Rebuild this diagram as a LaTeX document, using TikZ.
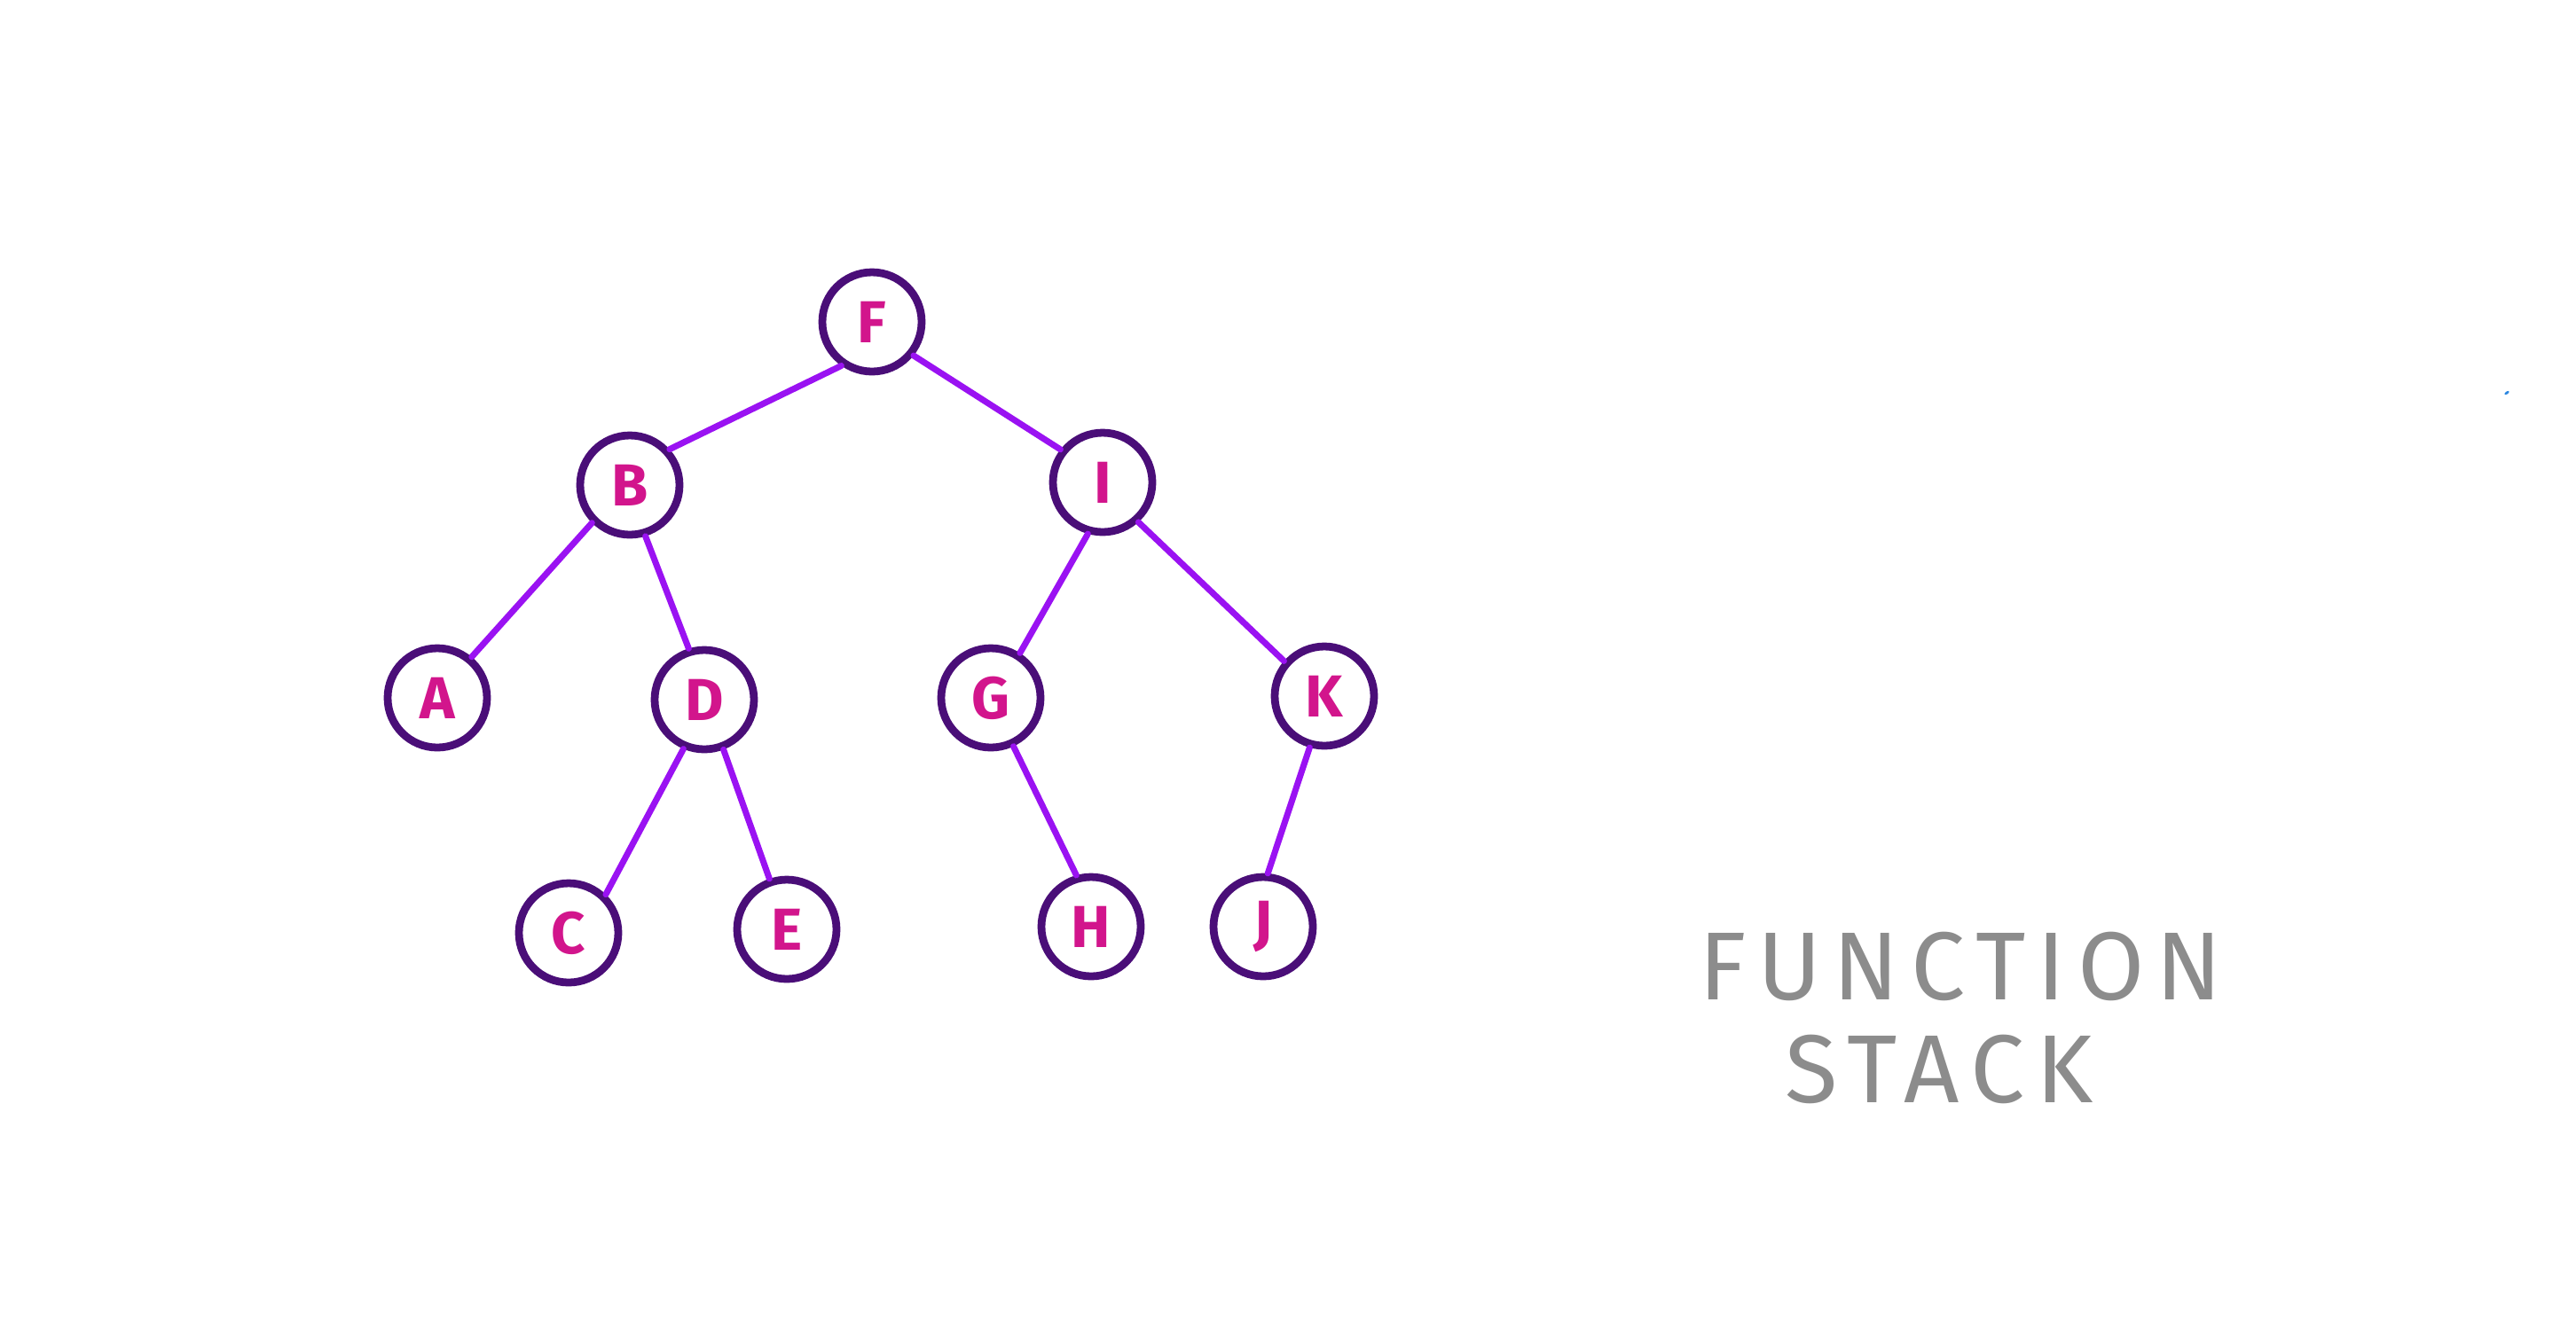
\documentclass[tikz,border=0pt]{standalone}
\usepackage{fontspec}
\setmainfont{Fira Sans}
\usepackage{tikz}

\definecolor{ringpurple}{HTML}{4A0E78}
\definecolor{edgepurple}{HTML}{9A12F2}
\definecolor{letterpink}{HTML}{D2158C}
\definecolor{notegray}{HTML}{8C8C8C}
\definecolor{dotblue}{HTML}{2A86E0}

\begin{document}
\begin{tikzpicture}[
      treenode/.style={circle, draw=ringpurple, line width=2.5pt, fill=white, minimum size=1.12cm, inner sep=0pt, text=letterpink, font=\fontsize{19}{19}\selectfont\bfseries},
      link/.style={-, draw=edgepurple, line width=2pt, line cap=round},
      note/.style={text=notegray, font=\fontsize{31}{31}\selectfont\addfontfeatures{LetterSpace=12}}
    ]
      \useasboundingbox (0,0) rectangle (29.04,-15);

      \node[treenode] (f) at (9.83,-3.63)  {F};
      \node[treenode] (b) at (7.10,-5.47)  {B};
      \node[treenode] (i) at (12.43,-5.44) {I};
      \node[treenode] (a) at (4.93,-7.87)  {A};
      \node[treenode] (d) at (7.94,-7.89)  {D};
      \node[treenode] (g) at (11.17,-7.87) {G};
      \node[treenode] (k) at (14.93,-7.85) {K};
      \node[treenode] (c) at (6.41,-10.52) {C};
      \node[treenode] (e) at (8.87,-10.48) {E};
      \node[treenode] (h) at (12.30,-10.45) {H};
      \node[treenode] (j) at (14.24,-10.45) {J};

      \draw[link] (f.235) -- (b.42);
      \draw[link] (f.321) -- (i.142);
      \draw[link] (b.225) -- (a.50);
      \draw[link] (b.287) -- (d.107);
      \draw[link] (d.247) -- (c.46);
      \draw[link] (d.291) -- (e.109);
      \draw[link] (i.254) -- (g.57);
      \draw[link] (i.312) -- (k.139);
      \draw[link] (g.295) -- (h.106);
      \draw[link] (k.254) -- (j.85);

      \node[note] (fnlabel)    at (22.10,-10.90) {FUNCTION};
      \node[note] (stacklabel) at (21.86,-12.06) {STACK};

      % stray pen mark
      \fill[dotblue, rotate around={35:(28.26,-4.43)}] (28.26,-4.43) ellipse (0.03 and 0.015);
    \end{tikzpicture}
\end{document}
